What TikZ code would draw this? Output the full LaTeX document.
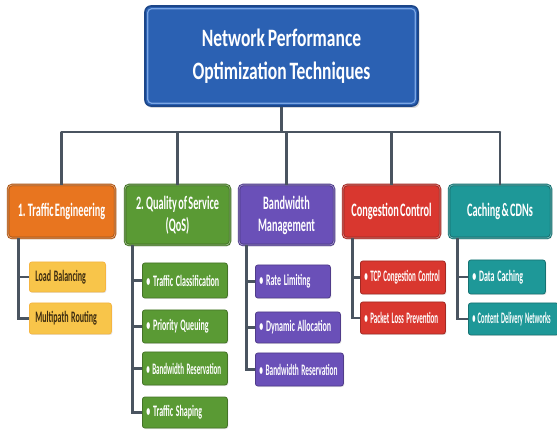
\documentclass[tikz,border=0pt]{standalone}
\usepackage{graphicx}
\usepackage{fontspec}
\setmainfont{Carlito}
\newfontfamily\titlefont[FakeStretch=0.7,WordSpace=0.7]{Carlito}
\newfontfamily\catfont[FakeStretch=0.54,WordSpace=0.55]{Carlito}
% leaf labels are squeezed as a whole box so glyphs and spaces shrink together
\newcommand\leaftext[2][0.48]{\scalebox{#1}[1]{#2}}
\usetikzlibrary{shadows}

\definecolor{rootfill}{HTML}{2B61B3}
\definecolor{rootedge}{HTML}{1C4689}
\definecolor{rootline}{HTML}{7BA6E4}
\definecolor{conncol}{HTML}{4A5460}
\definecolor{orangec}{HTML}{E8751F}
\definecolor{greenc}{HTML}{5A9A34}
\definecolor{purplec}{HTML}{6A50B8}
\definecolor{redc}{HTML}{D9372F}
\definecolor{tealc}{HTML}{1E9898}
\definecolor{yellowc}{HTML}{F8C54A}
\definecolor{yellowtext}{HTML}{3A2A10}

\begin{document}
\begin{tikzpicture}[x=1pt,y=-1pt,
  conn/.style={draw=conncol, line width=2.6pt},
  rootbox/.style={draw=rootedge, line width=1.6pt, fill=rootfill, rounded corners=6pt,
    minimum width=273pt, minimum height=100pt, text=white, align=center,
    font=\titlefont\bfseries\fontsize{25}{33}\selectfont,
    drop shadow={opacity=0.3, shadow xshift=1.5pt, shadow yshift=-2pt}},
  catbox/.style={draw=#1!72!black, fill=#1, line width=0.9pt, double=#1!60!white,
    double distance=0.7pt, rounded corners=4pt, text=white, align=center, inner sep=0pt,
    font=\catfont\bfseries\fontsize{19}{22}\selectfont,
    drop shadow={opacity=0.25, shadow xshift=1pt, shadow yshift=-1.5pt}},
  leaf/.style={draw=#1!75!black, fill=#1, line width=0.8pt, rounded corners=2.5pt,
    text=white, align=left, anchor=west, inner xsep=4pt, inner ysep=0pt,
    font=\bfseries\fontsize{16}{18}\selectfont,
    drop shadow={opacity=0.2, shadow xshift=1pt, shadow yshift=-1pt}},
  yleaf/.style={leaf=yellowc, draw=yellowc!80!orangec, text=yellowtext}]

\useasboundingbox[fill=white] (0,0) rectangle (557,430);
\clip (0,0) rectangle (557,430);

% root and its inner rim
\node[rootbox] (root) at (281.5,56) {Network Performance\\Optimization Techniques};
\draw[rootline, line width=1.2pt, rounded corners=4pt]
  ([xshift=3.5pt,yshift=-3.5pt]root.north west) rectangle ([xshift=-3.5pt,yshift=3.5pt]root.south east);

% categories
\node[catbox=orangec, minimum width=107pt, minimum height=53pt] (te)  at (61.5,211.5) {1. Traffic Engineering};
\node[catbox=greenc,  minimum width=105pt, minimum height=60pt] (qos) at (177.5,215) {2. Quality of Service\\(QoS)};
\node[catbox=purplec, minimum width=95pt,  minimum height=60pt] (bw)  at (286.5,215) {Bandwidth\\Management};
\node[catbox=redc,    minimum width=97pt,  minimum height=53pt] (cc)  at (391.5,211.5) {Congestion Control};
\node[catbox=tealc,   minimum width=102pt, minimum height=53pt] (ca)  at (500,211.5) {Caching \& CDNs};

% trunk and distribution bar
\coordinate (barL) at (61.5,132);
\coordinate (barR) at (500,132);
\draw[conn] (root.south) -- (root.south |- barL);
\draw[conn, line cap=round] (barL) -- (barR);
\foreach \c in {te,qos,bw,cc,ca} \draw[conn] (\c.north |- barL) -- (\c.north);

% leaves: traffic engineering
\node[yleaf, minimum height=30pt, text width=64pt, inner xsep=6pt] (te1) at (29,277) {\leaftext[0.5]{Load Balancing}};
\node[yleaf, minimum height=31pt, text width=70pt, inner xsep=6pt] (te2) at (29,318.5) {\leaftext[0.5]{Multipath Routing}};
% leaves: quality of service
\node[leaf=greenc, minimum height=35pt, text width=77pt] (q1) at (142,280.5) {\leaftext[0.5]{• Traffic Classification}};
\node[leaf=greenc, minimum height=33pt, text width=77pt] (q2) at (142,326.5) {\leaftext[0.5]{• Priority Queuing}};
\node[leaf=greenc, minimum height=33pt, text width=77pt] (q3) at (142,368.5) {\leaftext[0.44]{• Bandwidth Reservation}};
\node[leaf=greenc, minimum height=31pt, text width=77pt] (q4) at (142,412.5) {\leaftext[0.5]{• Traffic Shaping}};
% leaves: bandwidth management
\node[leaf=purplec, minimum height=33pt, text width=67pt] (b1) at (255,281.5) {\leaftext[0.5]{• Rate Limiting}};
\node[leaf=purplec, minimum height=31pt, text width=77pt] (b2) at (255,327.5) {\leaftext[0.5]{• Dynamic Allocation}};
\node[leaf=purplec, minimum height=33pt, text width=80pt] (b3) at (255,369.5) {\leaftext[0.46]{• Bandwidth Reservation}};
% leaves: congestion control
\node[leaf=redc, minimum height=33pt, text width=77pt] (c1) at (360,277.5) {\leaftext[0.44]{• TCP Congestion Control}};
\node[leaf=redc, minimum height=32pt, text width=77pt] (c2) at (360,318) {\leaftext[0.44]{• Packet Loss Prevention}};
% leaves: caching
\node[leaf=tealc, minimum height=34pt, text width=69pt] (k1) at (468,277) {\leaftext[0.5]{• Data Caching}};
\node[leaf=tealc, minimum height=32pt, text width=82pt] (k2) at (468,319) {\leaftext[0.4]{• Content Delivery Networks}};

% spines from each category to its leaves
\coordinate (tes) at ([xshift=11pt]te.south west);
\coordinate (qss) at ([xshift=8pt]qos.south west);
\coordinate (bws) at ([xshift=8pt]bw.south west);
\coordinate (ccs) at ([xshift=10pt]cc.south west);
\coordinate (cas) at ([xshift=9pt]ca.south west);
\draw[conn] (tes) |- (te2.west);
\draw[conn] (tes |- te1.west) -- (te1.west);
\draw[conn] (qss) |- (q4.west);
\foreach \n in {q1,q2,q3} \draw[conn] (qss |- \n.west) -- (\n.west);
\draw[conn] (bws) |- (b3.west);
\foreach \n in {b1,b2} \draw[conn] (bws |- \n.west) -- (\n.west);
\draw[conn] (ccs) |- (c2.west);
\draw[conn] (ccs |- c1.west) -- (c1.west);
\draw[conn] (cas) |- (k2.west);
\draw[conn] (cas |- k1.west) -- (k1.west);
\end{tikzpicture}
\end{document}
